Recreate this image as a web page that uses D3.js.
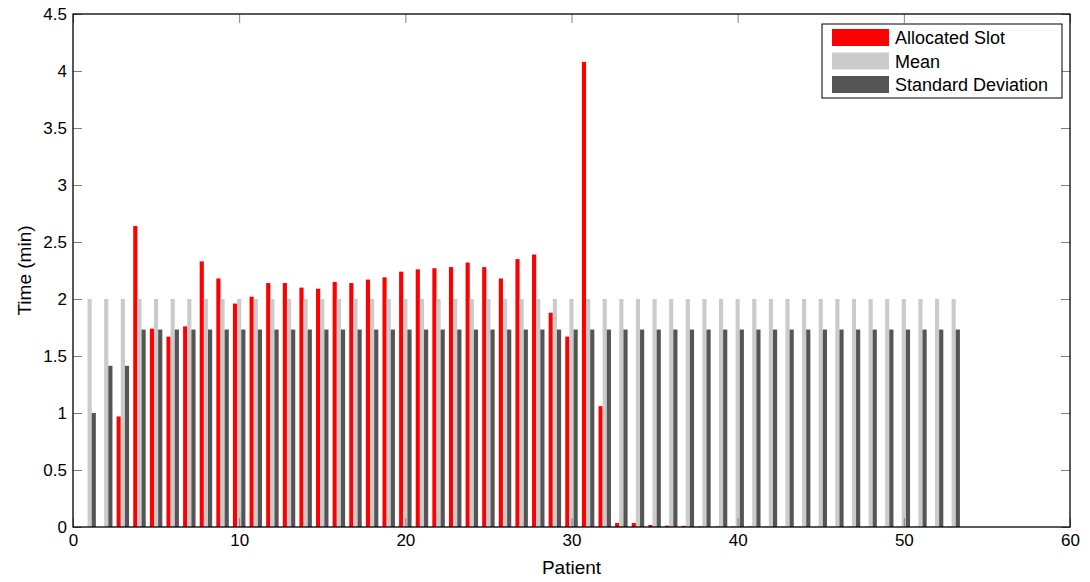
<!DOCTYPE html>
<html>
<head>
<meta charset="utf-8">
<script src="https://cdn.jsdelivr.net/npm/d3@7"></script>
<style>
  body { margin: 0; background: #fff; }
  svg { display: block; font-family: "Liberation Sans", Arial, sans-serif; }
</style>
</head>
<body>
<figure id="barchart" style="margin:0"></figure>
<script>
// patient numbers 1..53
var patients = d3.range(1, 54);

var allocatedSlot = [0, 0, 0.97, 2.64, 1.74, 1.67, 1.76, 2.33, 2.18, 1.96,
  2.02, 2.14, 2.14, 2.10, 2.09, 2.15, 2.14, 2.17, 2.19, 2.24,
  2.26, 2.27, 2.28, 2.32, 2.28, 2.18, 2.35, 2.39, 1.88, 1.67,
  4.08, 1.06, 0.035, 0.035, 0.018, 0.012, 0.01, 0.005, 0.005, 0.004,
  0.004, 0.003, 0.003, 0.003, 0.002, 0.002, 0.002, 0.002, 0.002, 0.002,
  0.002, 0.002, 0.002];

var meanValues = patients.map(function() { return 2; });

var stdValues = [1.0, 1.414, 1.414].concat(d3.range(4, 54).map(function() { return 1.732; }));

var xTicks = [0, 10, 20, 30, 40, 50, 60];
var yTicks = [0, 0.5, 1, 1.5, 2, 2.5, 3, 3.5, 4, 4.5];

var seriesNames = ["Allocated Slot", "Mean", "Standard Deviation"];
var seriesColors = ["#ff0000", "#cbcbcb", "#555555"];

var width = 1090, height = 582;
var margin = { top: 14, right: 20, bottom: 55, left: 73 };
var innerW = width - margin.left - margin.right;
var innerH = height - margin.top - margin.bottom;

var svg = d3.select("figure#barchart")
  .append("svg")
  .attr("width", width)
  .attr("height", height)
  .append("g")
  .attr("transform", "translate(" + margin.left + "," + margin.top + ")");

var x = d3.scaleLinear().domain([0, 60]).range([0, innerW]);
var y = d3.scaleLinear().domain([0, 4.5]).range([innerH, 0]);

var series = [allocatedSlot, meanValues, stdValues];
var offsets = [-0.25, 0, 0.25];
var barW = 0.25;

series.forEach(function(vals, s) {
  svg.append("g")
    .selectAll("rect")
    .data(patients)
    .enter()
    .append("rect")
    .attr("x", function(p) { return x(p + offsets[s] - barW / 2); })
    .attr("width", x(barW) - x(0))
    .attr("y", function(p, i) { return y(vals[i]); })
    .attr("height", function(p, i) { return innerH - y(vals[i]); })
    .attr("fill", seriesColors[s]);
});

// axes with inward ticks
var tickLen = 9;
var xAxis = svg.append("g")
  .attr("transform", "translate(0," + innerH + ")")
  .call(d3.axisBottom(x).tickValues(xTicks).tickSize(-tickLen).tickPadding(7).tickFormat(d3.format("d")));
var xAxisTop = svg.append("g")
  .call(d3.axisTop(x).tickValues(xTicks).tickSize(-tickLen).tickFormat(""));
var yAxis = svg.append("g")
  .call(d3.axisLeft(y).tickValues(yTicks).tickSize(-tickLen).tickPadding(6).tickFormat(function(d) { return d3.format("")(d); }));
var yAxisRight = svg.append("g")
  .attr("transform", "translate(" + innerW + ",0)")
  .call(d3.axisRight(y).tickValues(yTicks).tickSize(-tickLen).tickFormat(""));

[xAxis, xAxisTop, yAxis, yAxisRight].forEach(function(a) {
  a.select(".domain").remove();
  a.selectAll(".tick line").attr("stroke", "#808080");
  a.selectAll("text").attr("font-size", 17).attr("fill", "#000")
    .attr("font-family", "'Liberation Sans', Arial, sans-serif");
});

// box
svg.append("rect")
  .attr("width", innerW)
  .attr("height", innerH)
  .attr("fill", "none")
  .attr("stroke", "#000")
  .attr("stroke-width", 1.3);

// axis labels
svg.append("text")
  .attr("text-anchor", "middle")
  .attr("x", innerW / 2)
  .attr("y", innerH + 47)
  .attr("font-size", 19)
  .text("Patient");

svg.append("text")
  .attr("text-anchor", "middle")
  .attr("transform", "rotate(-90)")
  .attr("x", -innerH / 2)
  .attr("y", -42)
  .attr("font-size", 19)
  .text("Time (min)");

// legend
var legend = svg.append("g")
  .attr("transform", "translate(" + (822 - margin.left) + "," + (24 - margin.top) + ")");

legend.append("rect")
  .attr("width", 240)
  .attr("height", 74)
  .attr("fill", "#fff")
  .attr("stroke", "#000");

seriesNames.forEach(function(name, i) {
  legend.append("rect")
    .attr("x", 10)
    .attr("y", 5 + i * 23.5)
    .attr("width", 57)
    .attr("height", 17)
    .attr("fill", seriesColors[i]);
  legend.append("text")
    .attr("x", 73)
    .attr("y", 20 + i * 23.5)
    .attr("font-size", 18)
    .text(name);
});
</script>
</body>
</html>
